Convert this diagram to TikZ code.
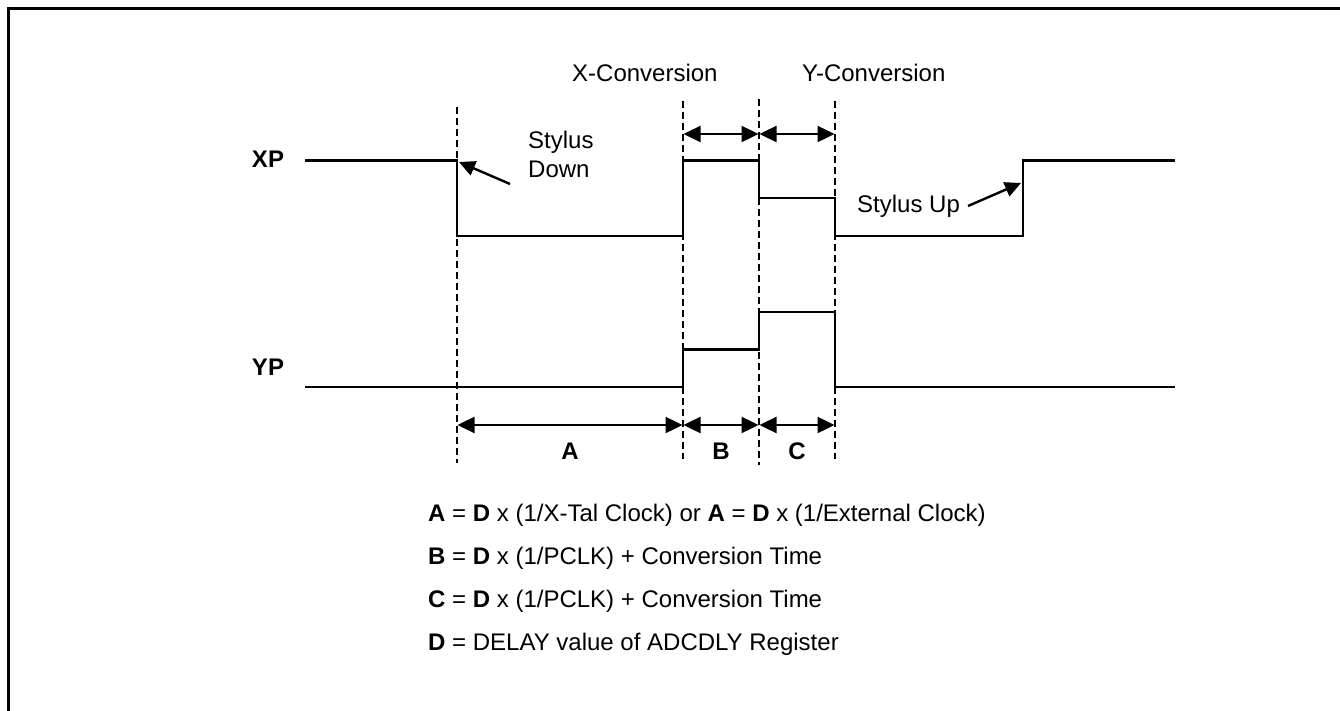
\documentclass[tikz,border=0pt]{standalone}
\usepackage{fontspec}
\setmainfont{Liberation Sans}
\usetikzlibrary{arrows.meta}
\tikzset{
  sig/.style={line width=2.4pt},
  guide/.style={line width=2.6pt, dash pattern=on 7pt off 4pt},
  dim/.style={line width=2.4pt, {Triangle[length=17pt,width=16pt]}-{Triangle[length=17pt,width=16pt]}, shorten <=0.5pt, shorten >=0.5pt},
  callout/.style={line width=2.4pt, -{Triangle[length=16pt,width=15pt]}},
  txt/.style={inner sep=0pt, font=\fontsize{24}{29}\selectfont},
  btxt/.style={inner sep=0pt, font=\fontsize{24}{29}\selectfont\bfseries},
}
\begin{document}
\begin{tikzpicture}[x=1pt,y=-1pt]
\useasboundingbox (0,0) rectangle (1340,711);
% frame
\draw[line width=3pt] (8,711) -- (8,9) -- (1340,9);

% guide lines
\coordinate (g1t) at (457,107); \coordinate (g1b) at (457,463);
\coordinate (g2t) at (683,101); \coordinate (g2b) at (683,459);
\coordinate (g3t) at (759,99);  \coordinate (g3b) at (759,465);
\coordinate (g4t) at (835,101); \coordinate (g4b) at (835,459);
\draw[guide] (g1t) -- (g1b);
\draw[guide] (g2t) -- (g2b);
\draw[guide] (g3t) -- (g3b);
\draw[guide] (g4t) -- (g4b);

% XP signal
\draw[sig] (305,160.5) -- (457,160.5) -- (457,236) -- (683,236) -- (683,160.5)
  -- (759,160.5) -- (759,198) -- (835,198) -- (835,236) -- (1023,236)
  -- (1023,160.5) -- (1175,160.5);
% YP signal
\draw[sig] (305,387) -- (683,387) -- (683,349.5) -- (759,349.5) -- (759,312)
  -- (835,312) -- (835,387) -- (1175,387);

% labels
\node[btxt, anchor=base] (xp) at (268,168) {XP};
\node[btxt, anchor=base] (yp) at (268,375) {YP};
\node[txt, anchor=base west] (xc) at (572,82) {X-Conversion};
\node[txt, anchor=base west] (yc) at (802,82) {Y-Conversion};

% top dimension arrows
\coordinate (t2) at (683,134); \coordinate (t3) at (759,134); \coordinate (t4) at (835,134);
\draw[dim] (t2) -- (t3);
\draw[dim] (t3) -- (t4);

% bottom dimension arrows
\coordinate (b1) at (457,425); \coordinate (b2) at (683,425);
\coordinate (b3) at (759,425); \coordinate (b4) at (835,425);
\draw[dim] (b1) -- (b2);
\draw[dim] (b2) -- (b3);
\draw[dim] (b3) -- (b4);
\node[btxt, anchor=base] (la) at (570,459) {A};
\node[btxt, anchor=base] (lb) at (721,459) {B};
\node[btxt, anchor=base] (lc) at (797,459) {C};

% callouts
\node[txt, anchor=base west, align=left] (sd) at (528,178) {Stylus\\Down};
\coordinate (sdtip) at (459,162);
\coordinate (sds) at (510,184);
\draw[callout] (sds) -- (sdtip);
\node[txt, anchor=base west] (su) at (857,213) {Stylus Up};
\coordinate (sutip) at (1021,183);
\coordinate (sus) at (968,206);
\draw[callout] (sus) -- (sutip);

% formulas
\node[txt, anchor=base west] (f1) at (428,521) {\textbf{A} = \textbf{D} x (1/X-Tal Clock) or \textbf{A} = \textbf{D} x (1/External Clock)};
\node[txt, anchor=base west] (f2) at (428,564) {\textbf{B} = \textbf{D} x (1/PCLK) + Conversion Time};
\node[txt, anchor=base west] (f3) at (428,607) {\textbf{C} = \textbf{D} x (1/PCLK) + Conversion Time};
\node[txt, anchor=base west] (f4) at (428,650) {\textbf{D} = DELAY value of ADCDLY Register};
\end{tikzpicture}
\end{document}
